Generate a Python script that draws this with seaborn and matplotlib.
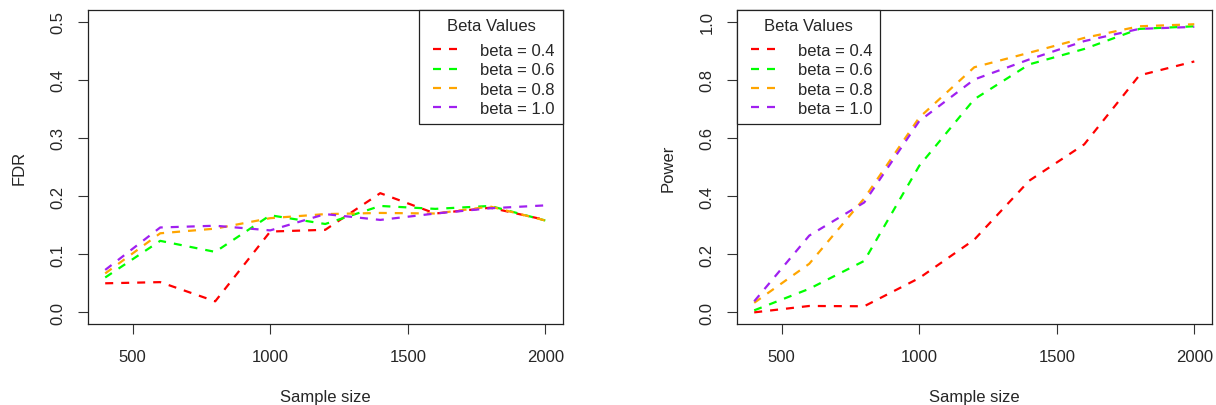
import matplotlib
matplotlib.use('Agg')
import matplotlib.pyplot as plt
from matplotlib.legend_handler import HandlerLine2D
import seaborn as sns
import pandas as pd

sample_size = [400, 600, 800, 1000, 1200, 1400, 1600, 1800, 2000]
beta_labels = ['beta = 0.4', 'beta = 0.6', 'beta = 0.8', 'beta = 1.0']
beta_colors = ['#FF0000', '#00FF00', '#FFA500', '#A020F0']

fdr_04 = [0.050, 0.052, 0.019, 0.139, 0.142, 0.205, 0.170, 0.180, 0.159]
fdr_06 = [0.060, 0.123, 0.104, 0.167, 0.152, 0.183, 0.178, 0.183, 0.158]
fdr_08 = [0.067, 0.136, 0.144, 0.162, 0.169, 0.171, 0.170, 0.182, 0.158]
fdr_10 = [0.073, 0.146, 0.149, 0.141, 0.169, 0.159, 0.170, 0.179, 0.184]

power_04 = [0.000, 0.022, 0.021, 0.118, 0.250, 0.453, 0.578, 0.815, 0.863]
power_06 = [0.007, 0.081, 0.177, 0.504, 0.733, 0.853, 0.906, 0.975, 0.984]
power_08 = [0.033, 0.167, 0.392, 0.670, 0.843, 0.893, 0.944, 0.984, 0.991]
power_10 = [0.038, 0.264, 0.378, 0.658, 0.801, 0.870, 0.933, 0.975, 0.982]


def long_df(series):
    rows = []
    for lab, vals in zip(beta_labels, series):
        for n, v in zip(sample_size, vals):
            rows.append({'n': n, 'value': v, 'beta': lab})
    return pd.DataFrame(rows)


fdr_df = long_df([fdr_04, fdr_06, fdr_08, fdr_10])
power_df = long_df([power_04, power_06, power_08, power_10])

sns.set_style('white')
plt.rcParams['font.family'] = ['Liberation Sans', 'DejaVu Sans']

FS = 12
LW = 1.6
DASH = (3.6, 3.6)

fig = plt.figure(figsize=(12.16, 4.06), dpi=100)
W, H = 1216, 406
ax1 = fig.add_axes([87.6 / W, 81 / H, 475.3 / W, 314 / H])
ax2 = fig.add_axes([736.6 / W, 81 / H, 475.3 / W, 314 / H])


def draw(ax, df, ylabel, ymax, yticks, loc):
    sns.lineplot(data=df, x='n', y='value', hue='beta', style='beta',
                 palette=beta_colors, dashes={b: DASH for b in beta_labels},
                 linewidth=LW, legend=False, ax=ax)
    ax.set_xlim(336, 2064)
    ax.set_ylim(-0.04 * ymax, 1.04 * ymax)
    ax.set_xticks([500, 1000, 1500, 2000])
    ax.set_yticks(yticks)
    ax.set_yticklabels([f'{t:.1f}' for t in yticks], rotation=90, va='center')
    ax.set_xlabel('Sample size', fontsize=FS, labelpad=18)
    ax.set_ylabel(ylabel, fontsize=FS, labelpad=17)
    ax.tick_params(axis='both', direction='out', length=7, width=0.8,
                   color='#333333', labelsize=FS, pad=9,
                   bottom=True, left=True)
    ax.tick_params(axis='x', pad=11)
    for s in ax.spines.values():
        s.set_visible(True)
        s.set_color('#222222')
        s.set_linewidth(0.9)
    for line in ax.get_lines():
        line.set_dashes(DASH)
    handles = [plt.Line2D([], [], color=c, linewidth=LW, dashes=DASH)
               for c in beta_colors]
    leg = ax.legend(handles, beta_labels, title='Beta Values', loc=loc,
                    fontsize=FS, title_fontsize=FS, frameon=True,
                    fancybox=False, framealpha=1, edgecolor='#222222',
                    borderaxespad=0, borderpad=0.5, handlelength=1.86,
                    handletextpad=1.3, labelspacing=0.26,
                    handler_map={plt.Line2D: HandlerLine2D(xpad=0.36)})
    leg.get_frame().set_linewidth(0.9)
    # a little more room between the title and the entries
    leg._legend_box.sep = 7


draw(ax1, fdr_df, 'FDR', 0.5, [0.0, 0.1, 0.2, 0.3, 0.4, 0.5], 'upper right')
draw(ax2, power_df, 'Power', 1.0, [0.0, 0.2, 0.4, 0.6, 0.8, 1.0], 'upper left')

fig.savefig('out.png', dpi=100)
